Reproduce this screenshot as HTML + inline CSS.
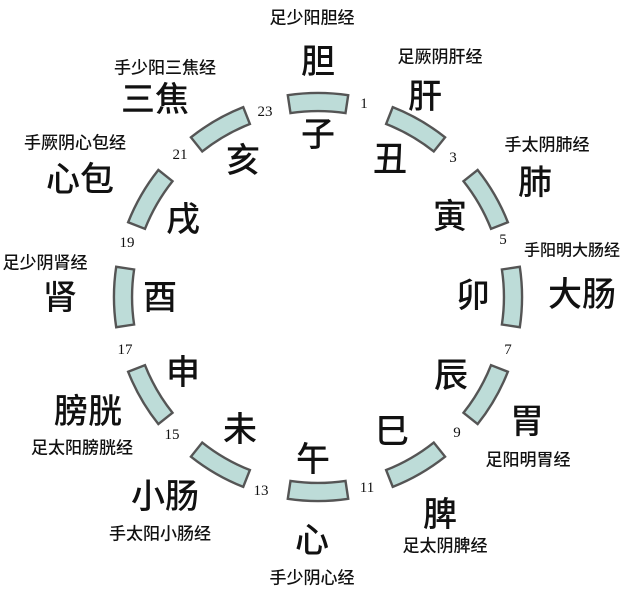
<!DOCTYPE html>
<html><head><meta charset="utf-8"><style>
html,body{margin:0;padding:0;background:#fff;width:640px;height:605px;overflow:hidden}
svg{display:block}
text{font-family:"Liberation Sans","Noto Sans CJK SC",sans-serif;fill:#111;text-anchor:middle;dominant-baseline:central}
.L{font-size:34px;font-weight:500}
.S{font-size:17px;font-weight:500}
.N{font-size:15px;font-family:"Liberation Serif","Noto Serif CJK SC",serif}
</style></head><body>
<svg width="640" height="605" viewBox="0 0 640 605">
<g transform="translate(318,297)" fill="#bddcd8" stroke="#555" stroke-width="2.4">
<path d="M -30.2,-201.8 A204 204 0 0 1 30.2,-201.8 L 27.5,-183.9 A186 186 0 0 0 -27.5,-183.9 Z"/>
<path d="M -30.2,-201.8 A204 204 0 0 1 30.2,-201.8 L 27.5,-183.9 A186 186 0 0 0 -27.5,-183.9 Z" transform="rotate(30)"/>
<path d="M -30.2,-201.8 A204 204 0 0 1 30.2,-201.8 L 27.5,-183.9 A186 186 0 0 0 -27.5,-183.9 Z" transform="rotate(60)"/>
<path d="M -30.2,-201.8 A204 204 0 0 1 30.2,-201.8 L 27.5,-183.9 A186 186 0 0 0 -27.5,-183.9 Z" transform="rotate(90)"/>
<path d="M -30.2,-201.8 A204 204 0 0 1 30.2,-201.8 L 27.5,-183.9 A186 186 0 0 0 -27.5,-183.9 Z" transform="rotate(120)"/>
<path d="M -30.2,-201.8 A204 204 0 0 1 30.2,-201.8 L 27.5,-183.9 A186 186 0 0 0 -27.5,-183.9 Z" transform="rotate(150)"/>
<path d="M -30.2,-201.8 A204 204 0 0 1 30.2,-201.8 L 27.5,-183.9 A186 186 0 0 0 -27.5,-183.9 Z" transform="rotate(180)"/>
<path d="M -30.2,-201.8 A204 204 0 0 1 30.2,-201.8 L 27.5,-183.9 A186 186 0 0 0 -27.5,-183.9 Z" transform="rotate(210)"/>
<path d="M -30.2,-201.8 A204 204 0 0 1 30.2,-201.8 L 27.5,-183.9 A186 186 0 0 0 -27.5,-183.9 Z" transform="rotate(240)"/>
<path d="M -30.2,-201.8 A204 204 0 0 1 30.2,-201.8 L 27.5,-183.9 A186 186 0 0 0 -27.5,-183.9 Z" transform="rotate(270)"/>
<path d="M -30.2,-201.8 A204 204 0 0 1 30.2,-201.8 L 27.5,-183.9 A186 186 0 0 0 -27.5,-183.9 Z" transform="rotate(300)"/>
<path d="M -30.2,-201.8 A204 204 0 0 1 30.2,-201.8 L 27.5,-183.9 A186 186 0 0 0 -27.5,-183.9 Z" transform="rotate(330)"/>
</g>
<text class="S" x="312" y="18">足少阳胆经</text>
<text class="L" x="318" y="62">胆</text>
<text class="L" x="318" y="135">子</text>
<text class="N" x="265" y="112">23</text>
<text class="N" x="364" y="104">1</text>
<text class="S" x="440" y="57">足厥阴肝经</text>
<text class="L" x="425" y="97">肝</text>
<text class="L" x="390" y="160">丑</text>
<text class="N" x="453" y="158">3</text>
<text class="S" x="547" y="145">手太阴肺经</text>
<text class="L" x="535" y="183">肺</text>
<text class="L" x="450" y="217">寅</text>
<text class="N" x="503" y="240">5</text>
<text class="S" x="572" y="251" style="font-size:16px">手阳明大肠经</text>
<text class="L" x="582" y="295">大肠</text>
<text class="L" x="473" y="296">卯</text>
<text class="N" x="508" y="350">7</text>
<text class="L" x="451" y="376">辰</text>
<text class="L" x="527" y="422">胃</text>
<text class="N" x="457" y="433">9</text>
<text class="S" x="528" y="460">足阳明胃经</text>
<text class="L" x="392" y="432">巳</text>
<text class="N" x="367" y="488">11</text>
<text class="L" x="440" y="515">脾</text>
<text class="S" x="445" y="546">足太阴脾经</text>
<text class="L" x="313" y="460">午</text>
<text class="L" x="312" y="541">心</text>
<text class="S" x="312" y="578">手少阴心经</text>
<text class="N" x="261" y="491">13</text>
<text class="L" x="165" y="497">小肠</text>
<text class="S" x="160" y="534">手太阳小肠经</text>
<text class="L" x="240" y="430">未</text>
<text class="N" x="172" y="435">15</text>
<text class="L" x="88" y="412">膀胱</text>
<text class="S" x="82" y="448">足太阳膀胱经</text>
<text class="L" x="183" y="373">申</text>
<text class="N" x="125" y="350">17</text>
<text class="L" x="160" y="298">酉</text>
<text class="L" x="60" y="298">肾</text>
<text class="S" x="45" y="263">足少阴肾经</text>
<text class="N" x="127" y="243">19</text>
<text class="L" x="183" y="220">戌</text>
<text class="L" x="80" y="180">心包</text>
<text class="S" x="75" y="143">手厥阴心包经</text>
<text class="N" x="180" y="155">21</text>
<text class="L" x="243" y="161">亥</text>
<text class="L" x="155" y="100">三焦</text>
<text class="S" x="165" y="68">手少阳三焦经</text>
</svg>
</body></html>
